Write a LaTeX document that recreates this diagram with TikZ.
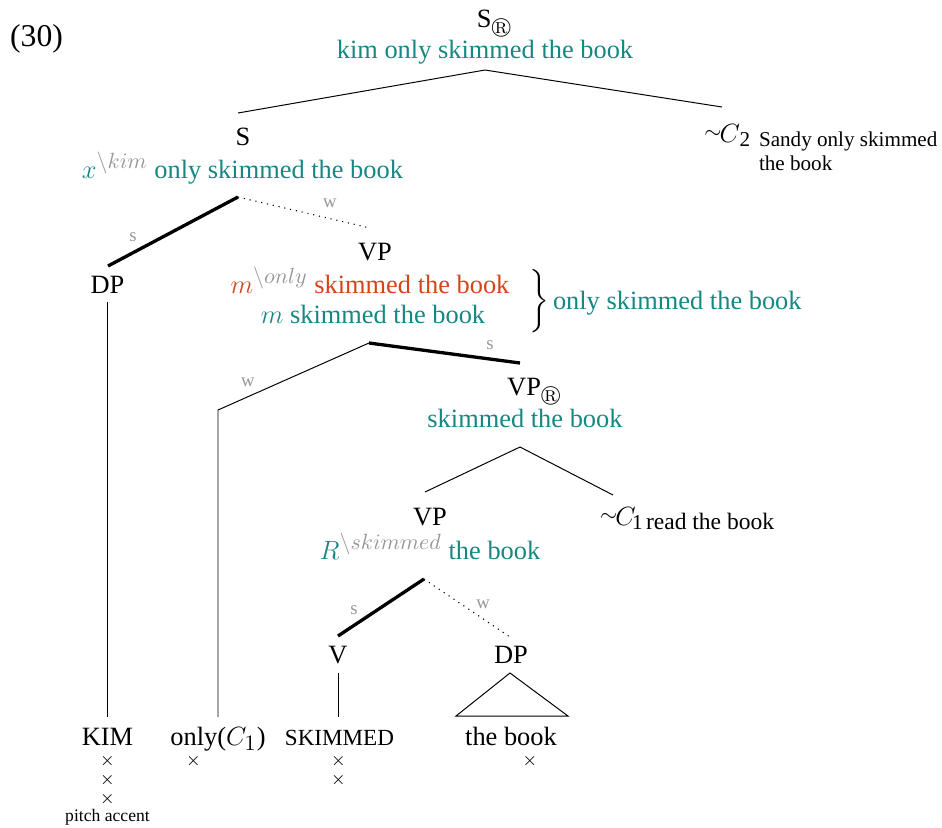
\documentclass[tikz,border=0pt]{standalone}
\usepackage{fontspec}
\setmainfont{Liberation Serif}
\usepackage{amssymb}
\DeclareMathSizes{12}{12}{9.6}{7}

\definecolor{mteal}{RGB}{22,135,130}
\definecolor{mred}{RGB}{212,68,28}
\definecolor{mgray}{RGB}{150,150,150}
\newcommand\mainsz{\fontsize{12}{14.4}\selectfont}
\newcommand\focmark{\raisebox{-3pt}{\fontsize{9.5}{10}\selectfont$\circledR$}}
\newcommand\alttilde{\raisebox{1.6pt}{\fontsize{9.6}{10}\selectfont$\sim$}\kern-0.8pt}

\begin{document}
\begin{tikzpicture}[x=0.4545pt,y=-0.4545pt,
  every node/.style={inner sep=0pt,outer sep=0pt,font=\mainsz},
  cat/.style={anchor=base},
  mean/.style={anchor=base,text=mteal},
  altmean/.style={anchor=base,text=mred},
  note/.style={anchor=base west,font=\fontsize{9.6}{10.9}\selectfont},
  swlabel/.style={text=mgray,font=\fontsize{8.5}{10}\selectfont},
  xmark/.style={font=\fontsize{8}{9}\selectfont},
  edge/.style={line width=0.45pt},
  strong/.style={line width=1.5pt},
  weak/.style={line width=0.5pt,dash pattern=on 0.5pt off 2.2pt}]
\useasboundingbox (0,0) rectangle (942,827);

% example number
\node[cat,font=\fontsize{14.4}{17}\selectfont] (ex) at (36.5,46) {(30)};

% root
\node[cat] (root) at (494,27) {S\focmark};
\node[mean] (rootm) at (485,58) {kim only skimmed the book};
\coordinate (rootb) at (485,70);

% alternative C2
\node[cat,anchor=base east] (c2) at (740,142) {\alttilde$C$};
\node[note,anchor=base] (c2i) at (745,146) {2};
\node[note] (alt2a) at (759,146) {Sandy only skimmed};
\node[note] (alt2b) at (759,170) {the book};
\coordinate (c2t) at (722,107);

% S
\node[cat] (s) at (243,145) {S};
\node[mean] (sm) at (242.5,178) {$x^{\textcolor{mgray}{\backslash kim}}$ only skimmed the book};
\coordinate (st) at (238,113);
\coordinate (sb) at (238,197);

\draw[edge] (rootb) -- (st);
\draw[edge] (rootb) -- (c2t);

% DP (subject)
\node[cat] (dp) at (107.5,293) {DP};
\coordinate (dpt) at (108,266);
\coordinate (dpb) at (107.5,302);

% VP (only)
\node[cat] (vp) at (375,260) {VP};
\node[altmean] (vpa) at (370,293) {$m^{\textcolor{mgray}{\backslash only}}$ skimmed the book};
\node[mean] (vpm) at (373,323) {$m$ skimmed the book};
\node (br) at (538,301) {$\left.\vcenter{\hbox{\rule{0pt}{30pt}}}\right\}$};
\node[mean,anchor=base west] (vpo) at (553,309) {only skimmed the book};
\coordinate (vpt) at (370,228);
\coordinate (vpb) at (369,343);

\draw[strong] (sb) -- (dpt);
\draw[weak] (sb) -- (vpt);
\node[swlabel] (s1) at (133,237) {s};
\node[swlabel] (w1) at (330,203) {w};

% VP focus
\node[cat] (vpr) at (534,395) {VP\focmark};
\node[mean] (vprm) at (525,427) {skimmed the book};
\coordinate (vprt) at (520,363);
\coordinate (vprb) at (520,447);

% only
\coordinate (bend) at (218,410);
\draw[edge] (vpb) -- (bend) -- (218,717) coordinate (onlyt);
\draw[strong] (vpb) -- (vprt);
\node[swlabel] (w2) at (248,382) {w};
\node[swlabel] (s2) at (490,345) {s};

% VP lower and alternative C1
\node[cat] (vp2) at (430,525) {VP};
\node[mean] (vp2m) at (430,559) {$R^{\textcolor{mgray}{\backslash skimmed}}$ the book};
\coordinate (vp2t) at (425,492);
\coordinate (vp2b) at (424,579);
\node[cat,anchor=base west] (c1) at (600,525) {\alttilde$C$};
\node[anchor=base west,font=\fontsize{9.6}{11}\selectfont] (c1i) at (632,529) {1};
\node[anchor=base west,font=\fontsize{10.7}{12}\selectfont] (alt1) at (646,529) {read the book};
\coordinate (c1t) at (613,495);

\draw[edge] (vprb) -- (vp2t);
\draw[edge] (vprb) -- (c1t);

% V and object DP
\node[cat] (v) at (338,663) {V};
\node[cat] (dp2) at (511,663) {DP};
\coordinate (vt) at (338,636);
\coordinate (dp2t) at (510,637);
\draw[strong] (vp2b) -- (vt);
\draw[weak] (vp2b) -- (dp2t);
\node[swlabel] (s3) at (354,610) {s};
\node[swlabel] (w3) at (483,604) {w};

\coordinate (vb) at (338.5,673);
\coordinate (vl) at (338.5,717);
\draw[edge] (vb) -- (vl);
\coordinate (tri) at (510,673);
\draw[edge] (tri) -- (456,716) -- (568,716) -- cycle;

\draw[edge] (dpb) -- (107.5,717) coordinate (kimt);

% words
\node[cat] (kim) at (107.5,745) {KIM};
\node[cat] (only) at (218,745) {only($C_1$)};
\node[cat] (skim) at (339.5,745) {\fontsize{10.5}{12}\selectfont SKIMMED};
\node[cat] (book) at (511,745) {the book};

% metrical grid
\node[xmark] (k1) at (107.5,761) {$\times$};
\node[xmark] (k2) at (107.5,780) {$\times$};
\node[xmark] (k3) at (107.5,799) {$\times$};
\node[cat,font=\fontsize{8}{9}\selectfont] (pa) at (107.5,821) {pitch accent};
\node[xmark] (o1) at (193.5,761) {$\times$};
\node[xmark] (sk1) at (338.5,761) {$\times$};
\node[xmark] (sk2) at (338.5,780) {$\times$};
\node[xmark] (b1) at (530,761) {$\times$};
\end{tikzpicture}
\end{document}
